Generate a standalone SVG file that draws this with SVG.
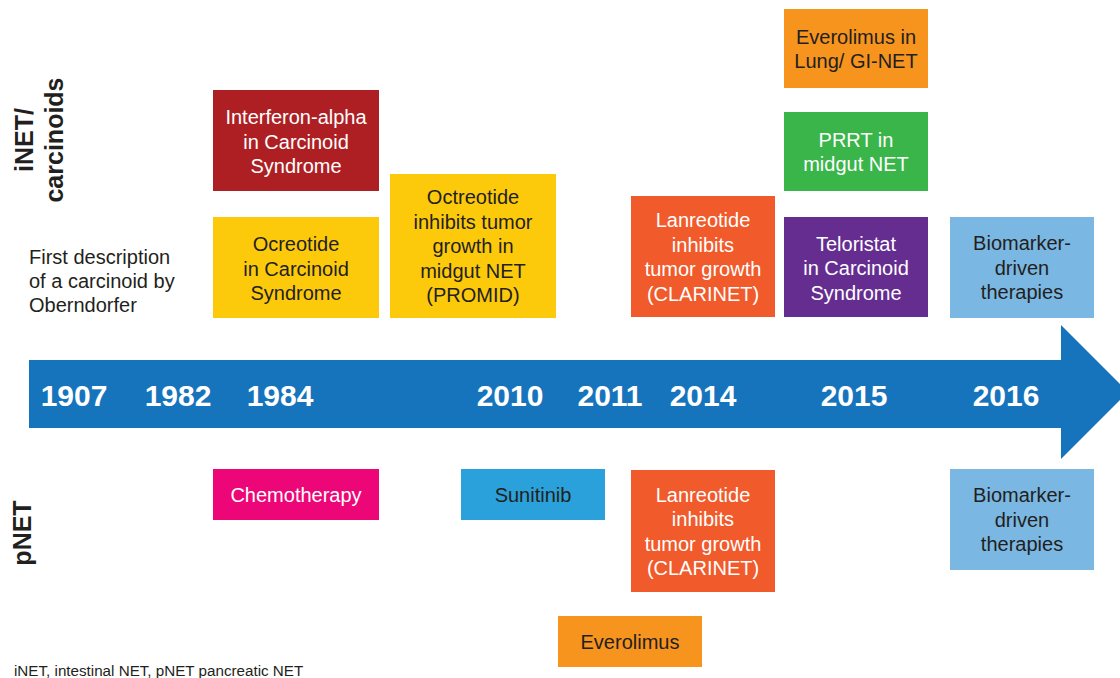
<svg xmlns="http://www.w3.org/2000/svg" width="1120" height="678" viewBox="0 0 1120 678">
  <style>
    .t { font-family: "Liberation Sans", Arial, Helvetica, sans-serif; font-size: 20px; text-anchor: middle; }
    .dk { fill: #231F20; }
    .wh { fill: #FFFFFF; }
    .yr { font-family: "Liberation Sans", Arial, Helvetica, sans-serif; font-size: 30px; font-weight: bold; fill: #FFFFFF; text-anchor: middle; }
    .side { font-family: "Liberation Sans", Arial, Helvetica, sans-serif; font-size: 25px; font-weight: bold; fill: #231F20; text-anchor: middle; }
    .note { font-family: "Liberation Sans", Arial, Helvetica, sans-serif; font-size: 20px; fill: #231F20; }
    .foot { font-family: "Liberation Sans", Arial, Helvetica, sans-serif; font-size: 15.2px; fill: #231F20; }
  </style>

  <rect width="1120" height="678" fill="#FFFFFF"/>

  <!-- timeline arrow with years -->
  <g id="timeline">
    <path d="M29,360 H1061 V325 L1128,392 L1061,459 V428 H29 Z" fill="#1674BC"/>
    <text class="yr" x="74" y="406">1907</text>
    <text class="yr" x="178" y="406">1982</text>
    <text class="yr" x="280" y="406">1984</text>
    <text class="yr" x="510" y="406">2010</text>
    <text class="yr" x="610" y="406">2011</text>
    <text class="yr" x="703" y="406">2014</text>
    <text class="yr" x="854" y="406">2015</text>
    <text class="yr" x="1006" y="406">2016</text>
  </g>

  <!-- connectors: none drawn -->
  <g id="connectors"/>

  <!-- row labels -->
  <g id="label-inet">
    <text class="side" transform="translate(33,140) rotate(-90)">iNET/</text>
    <text class="side" transform="translate(63,140) rotate(-90)">carcinoids</text>
  </g>
  <g id="label-pnet">
    <text class="side" transform="translate(31,533) rotate(-90)">pNET</text>
  </g>

  <g id="n-1907">
    <text class="note" x="29" y="264">First description</text>
    <text class="note" x="29" y="288">of a carcinoid by</text>
    <text class="note" x="29" y="312">Oberndorfer</text>
  </g>

  <!-- iNET / carcinoid row -->
  <g id="n-interferon">
    <rect x="213" y="90" width="166" height="101" fill="#AE1F24"/>
    <text class="t wh" x="296" y="124">Interferon-alpha</text>
    <text class="t wh" x="296" y="148.5">in Carcinoid</text>
    <text class="t wh" x="296" y="173">Syndrome</text>
  </g>
  <g id="n-ocreotide">
    <rect x="213" y="217" width="166" height="101" fill="#FDCA0B"/>
    <text class="t dk" x="296" y="251">Ocreotide</text>
    <text class="t dk" x="296" y="275.5">in Carcinoid</text>
    <text class="t dk" x="296" y="300">Syndrome</text>
  </g>
  <g id="n-promid">
    <rect x="390" y="174" width="166" height="144" fill="#FDCA0B"/>
    <text class="t dk" x="473" y="204">Octreotide</text>
    <text class="t dk" x="473" y="228.5">inhibits tumor</text>
    <text class="t dk" x="473" y="253">growth in</text>
    <text class="t dk" x="473" y="277.5">midgut NET</text>
    <text class="t dk" x="473" y="302">(PROMID)</text>
  </g>
  <g id="n-clarinet-top">
    <rect x="631" y="196" width="144" height="121" fill="#F15A2B"/>
    <text class="t wh" x="703" y="227">Lanreotide</text>
    <text class="t wh" x="703" y="251.5">inhibits</text>
    <text class="t wh" x="703" y="276">tumor growth</text>
    <text class="t wh" x="703" y="300.5">(CLARINET)</text>
  </g>
  <g id="n-everolimus-lung">
    <rect x="784" y="9" width="144" height="79" fill="#F7941D"/>
    <text class="t dk" x="856" y="43.5">Everolimus in</text>
    <text class="t dk" x="856" y="68">Lung/ GI-NET</text>
  </g>
  <g id="n-prrt">
    <rect x="784" y="112" width="144" height="79" fill="#39B54A"/>
    <text class="t wh" x="856" y="146.5">PRRT in</text>
    <text class="t wh" x="856" y="171">midgut NET</text>
  </g>
  <g id="n-teloristat">
    <rect x="784" y="217" width="144" height="100" fill="#662D91"/>
    <text class="t wh" x="856" y="250.5">Teloristat</text>
    <text class="t wh" x="856" y="275">in Carcinoid</text>
    <text class="t wh" x="856" y="299.5">Syndrome</text>
  </g>
  <g id="n-biomarker-top">
    <rect x="950" y="217" width="144" height="101" fill="#7AB7E2"/>
    <text class="t dk" x="1022" y="250">Biomarker-</text>
    <text class="t dk" x="1022" y="274.5">driven</text>
    <text class="t dk" x="1022" y="299">therapies</text>
  </g>

  <!-- pNET row -->
  <g id="n-chemotherapy">
    <rect x="213" y="469" width="166" height="51" fill="#EC0677"/>
    <text class="t wh" x="296" y="501.5">Chemotherapy</text>
  </g>
  <g id="n-sunitinib">
    <rect x="461" y="469" width="144" height="51" fill="#2AA1DB"/>
    <text class="t dk" x="533" y="501.5">Sunitinib</text>
  </g>
  <g id="n-clarinet-bottom">
    <rect x="631" y="470" width="144" height="122" fill="#F15A2B"/>
    <text class="t wh" x="703" y="501.5">Lanreotide</text>
    <text class="t wh" x="703" y="526">inhibits</text>
    <text class="t wh" x="703" y="550.5">tumor growth</text>
    <text class="t wh" x="703" y="575">(CLARINET)</text>
  </g>
  <g id="n-everolimus">
    <rect x="558" y="616" width="144" height="51" fill="#F7941D"/>
    <text class="t dk" x="630" y="648.5">Everolimus</text>
  </g>
  <g id="n-biomarker-bottom">
    <rect x="950" y="469" width="144" height="101" fill="#7AB7E2"/>
    <text class="t dk" x="1022" y="502">Biomarker-</text>
    <text class="t dk" x="1022" y="526.5">driven</text>
    <text class="t dk" x="1022" y="551">therapies</text>
  </g>

  <text class="foot" x="14" y="676">iNET, intestinal NET, pNET pancreatic NET</text>
</svg>
